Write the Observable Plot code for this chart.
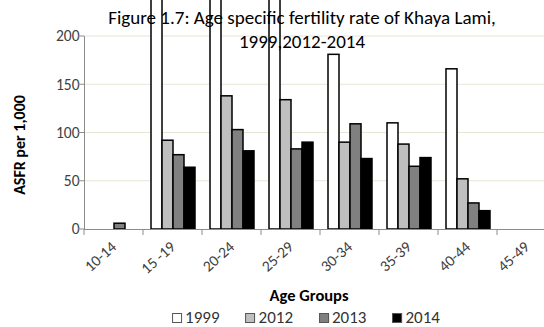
<!DOCTYPE html>
<html>
<head>
<meta charset="utf-8">
<script src="https://cdn.jsdelivr.net/npm/d3@7"></script>
<script src="https://cdn.jsdelivr.net/npm/@observablehq/plot@0.6"></script>
<style>
  html, body { margin: 0; padding: 0; background: #fff; }
  body { width: 544px; height: 327px; position: relative; overflow: hidden;
         font-family: Carlito, Calibri, Lato, "Open Sans", sans-serif; }
  #chart { position: absolute; left: 0; top: 0; }
  .title { position: absolute; left: 302px; top: 6px; transform: translateX(-50%);
           font-size: 19px; line-height: 24px; text-align: center; color: #000; white-space: nowrap; pointer-events: none; }
  .xlabel { position: absolute; left: 309px; top: 285px; transform: translateX(-50%);
            font-size: 16.5px; font-weight: bold; color: #000; white-space: nowrap; }
  .ylabel { position: absolute; left: 19px; top: 145px; transform: translate(-50%, -50%) rotate(-90deg);
            font-size: 16px; font-weight: bold; color: #000; white-space: nowrap; }
  .legend { position: absolute; left: 306px; top: 308px; transform: translateX(-50%);
            display: flex; gap: 26px; font-size: 17px; line-height: 20px; color: #333; white-space: nowrap; }
  .legend span.item { display: flex; align-items: center; gap: 3px; }
  .legend span.sw { display: inline-block; width: 10px; height: 10px; box-sizing: border-box; border: 1px solid #555; }
</style>
</head>
<body>
<div id="chart"></div>
<div class="title">Figure 1.7: Age specific fertility rate of Khaya Lami,<br>1999,2012-2014</div>
<div class="ylabel">ASFR per 1,000</div>
<div class="xlabel">Age Groups</div>
<div class="legend" id="legend"></div>
<script>
// ---- data ----
const ageGroups = ["10-14", "15 -19", "20-24", "25-29", "30-34", "35-39", "40-44", "45-49"];
const years = ["1999", "2012", "2013", "2014"];
const asfr1999 = [null, 250, 290, 255, 181, 110, 166, null];
const asfr2012 = [null, 92, 138, 134, 90, 88, 52, null];
const asfr2013 = [6, 77, 103, 83, 109, 65, 27, null];
const asfr2014 = [null, 64, 81, 90, 73, 74, 19, null];
const yTicks = [0, 50, 100, 150, 200];
const yearColors = ["#ffffff", "#bfbfbf", "#808080", "#000000"];

const series = [asfr1999, asfr2012, asfr2013, asfr2014];
const rows = [];
ageGroups.forEach((age, i) => {
  years.forEach((yr, j) => {
    const v = series[j][i];
    if (v != null) rows.push({age, year: yr, value: v});
  });
});

const chart = Plot.plot({
  width: 544,
  height: 327,
  marginLeft: 83,
  marginRight: -12,
  marginTop: 36,
  marginBottom: 98,
  style: {fontFamily: "Carlito, Calibri, Lato, 'Open Sans', sans-serif", fontSize: "15.5px", background: "transparent", color: "#404040", overflow: "visible"},
  facet: {data: rows, x: "age"},
  fx: {domain: ageGroups, paddingInner: 0.245, paddingOuter: 0.1225, label: null, tickRotate: -42, tickSize: 0, tickPadding: 15},
  x: {domain: years, padding: 0, axis: null},
  y: {domain: [0, 200], ticks: yTicks, label: null, tickSize: 0, tickPadding: 12},
  color: {domain: years, range: yearColors},
  marks: [
    Plot.barY(rows, {x: "year", y: "value", fill: "year", stroke: "#000", strokeWidth: 1.5})
  ]
});
document.getElementById("chart").appendChild(chart);

// ---- gridlines, axis lines and category tick marks derived from Plot's scales ----
const svg = d3.select(chart);
const ys = chart.scale("y");
let fxDomain = ageGroups, fxStart, fxStep;
try {
  const fxs = chart.scale("fx");
  fxStep = fxs.step;
  fxStart = fxs.apply(fxs.domain[0]) - (fxs.step - fxs.bandwidth) / 2;
} catch (e) {}
if (fxStep == null || isNaN(fxStart)) {
  const b = d3.scaleBand().domain(ageGroups).range([83, 556]).paddingInner(0.245).paddingOuter(0.1225);
  fxStep = b.step();
  fxStart = b(ageGroups[0]) - (b.step() - b.bandwidth()) / 2;
}
const x0 = fxStart, x1 = fxStart + fxStep * fxDomain.length;
const y0 = ys.apply(0);
const g = svg.insert("g", "g");
yTicks.slice(1).forEach(t => {
  g.append("line").attr("x1", x0).attr("x2", x1).attr("y1", ys.apply(t)).attr("y2", ys.apply(t))
    .attr("stroke", "#e6e6d6").attr("stroke-width", 1);
});
const ga = svg.append("g").attr("stroke", "#8c8c8c").attr("stroke-width", 1);
ga.append("line").attr("x1", x0 + 0.5).attr("x2", x0 + 0.5).attr("y1", ys.apply(200)).attr("y2", y0);
ga.append("line").attr("x1", x0).attr("x2", x1).attr("y1", y0 + 0.5).attr("y2", y0 + 0.5);
yTicks.forEach(t => {
  ga.append("line").attr("x1", x0 - 6).attr("x2", x0).attr("y1", ys.apply(t)).attr("y2", ys.apply(t));
});
for (let i = 0; i <= fxDomain.length; i++) {
  const xx = fxStart + i * fxStep;
  ga.append("line").attr("x1", xx).attr("x2", xx).attr("y1", y0).attr("y2", y0 + 6);
}

// ---- legend ----
const leg = document.getElementById("legend");
years.forEach((yr, j) => {
  const it = document.createElement("span"); it.className = "item";
  const sw = document.createElement("span"); sw.className = "sw"; sw.style.background = yearColors[j];
  const tx = document.createElement("span"); tx.textContent = yr;
  it.appendChild(sw); it.appendChild(tx); leg.appendChild(it);
});
</script>
</body>
</html>
